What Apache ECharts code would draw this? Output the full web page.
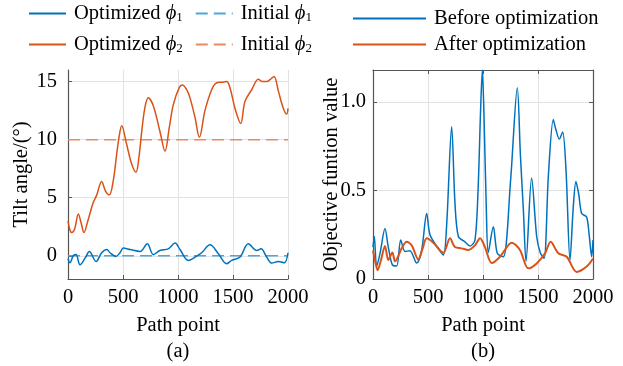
<!DOCTYPE html>
<html><head><meta charset="utf-8">
<script src="https://cdn.jsdelivr.net/npm/echarts@6/dist/echarts.min.js"></script>
<style>html,body{margin:0;padding:0;background:#fff}#c{width:623px;height:366px}</style>
</head><body><div id="c"></div>
<script>
// ---- Data (a): tilt angles ----
const phi2X = [0,18,34,60,94,120,145,180,230,260,306,340,376,412,442,467,488,533,579,618,645,670,700,730,776,836,882,920,957,1012,1040,1079,1109,1155,1194,1245,1306,1352,1400,1442,1473,1518,1570,1609,1670,1730,1770,1806,1840,1873,1912,1957,1988,2000];
const phi2Y = [3.0,2.2,2.0,2.3,3.6,2.8,2.0,3.0,4.6,5.2,6.4,5.6,5.25,6.5,8.7,10.4,11.2,9.6,7.9,7.2,8.5,10.7,12.8,13.6,12.9,10.7,9.0,11.0,13.0,14.5,14.7,14.3,13.6,11.9,10.2,12.5,14.3,14.9,14.95,15.0,14.45,12.7,11.4,13.3,14.3,15.2,15.0,15.0,15.2,15.45,14.2,12.7,12.2,12.7];
const phi1X = [0,18,48,73,109,155,194,255,306,352,382,436,473,503,564,655,721,776,836,912,973,1018,1094,1170,1215,1291,1367,1442,1488,1564,1639,1715,1755,1806,1852,1912,1967,2000];
const phi1Y = [-0.26,-0.6,0.0,0.1,-0.77,-0.2,0.37,-0.49,0.26,0.54,0.26,-0.06,0.26,0.66,0.54,0.37,1.03,0.09,0.46,0.6,1.1,0.54,-0.4,-0.03,0.26,0.94,0.17,-0.69,-0.4,-0.11,1.03,0.46,0.6,-0.11,-0.63,-0.49,-0.6,0.26];
const initX = [0,2000];
const initPhi1 = [0,0];
const initPhi2 = [10,10];
// ---- Data (b): objective function ----
const beforeX = [0,12,33,64,109,139,176,215,252,291,336,397,442,488,518,579,639,670,715,745,776,836,882,927,955,978,994,1010,1030,1048,1094,1130,1185,1250,1312,1340,1367,1391,1442,1488,1520,1555,1594,1639,1660,1694,1724,1755,1791,1820,1845,1870,1897,1942,1965,1988,2000];
const beforeY = [0.18,0.24,0.07,0.145,0.285,0.18,0.08,0.073,0.22,0.155,0.16,0.09,0.16,0.37,0.25,0.186,0.135,0.31,0.86,0.43,0.24,0.21,0.186,0.22,0.5,0.95,1.18,0.9,0.4,0.15,0.295,0.145,0.126,0.55,1.08,0.7,0.39,0.1,0.57,0.24,0.15,0.116,0.58,0.9,0.85,0.79,0.83,0.61,0.107,0.4,0.55,0.48,0.37,0.35,0.25,0.126,0.22];
const afterX = [0,20,42,70,109,139,176,200,261,306,352,412,450,488,548,639,700,745,806,867,927,973,1018,1079,1155,1261,1336,1412,1488,1564,1615,1685,1761,1852,1942,2000];
const afterY = [0.16,0.1,0.05,0.1,0.186,0.107,0.15,0.1,0.173,0.21,0.19,0.11,0.17,0.23,0.205,0.148,0.23,0.18,0.173,0.164,0.19,0.23,0.18,0.09,0.126,0.205,0.164,0.06,0.088,0.145,0.21,0.145,0.126,0.04,0.07,0.116];
const xTicks = [0,500,1000,1500,2000];
const yTicksA = [0,5,10,15];
const yTicksB = [0,0.5,1.0];

const zip = (xs, ys) => xs.map((x, i) => [x, ys[i]]);
const FONT = 'Liberation Serif';
const FS = 20.5;
const BLUE = '#0072BD', ORANGE = '#D95319', LBLUE = '#4FA6DC', LORANGE = '#EA8A62';
const AX = '#555555', GRIDC = '#e2e2e2';
const txt = {fontFamily: FONT, fontSize: FS, color: '#000'};
const rich = {
  n: {fontFamily: FONT, fontSize: FS, color: '#000'},
  i: {fontFamily: FONT, fontSize: FS, color: '#000', fontStyle: 'italic'},
  s: {fontFamily: FONT, fontSize: 13, color: '#000', verticalAlign: 'bottom', padding: [9, 0, 0, 0]}
};
const legendNames = {
  opt1: '{n|Optimized }{i|ϕ}{s|1}', init1: '{n|Initial }{i|ϕ}{s|1}',
  opt2: '{n|Optimized }{i|ϕ}{s|2}', init2: '{n|Initial }{i|ϕ}{s|2}'
};

function xAx(gi, extra) {
  return Object.assign({
    gridIndex: gi, type: 'value', min: 0, max: 2000, interval: 500,
    axisLine: {show: true, onZero: false, lineStyle: {color: AX, width: 1.2}},
    axisTick: {show: true, inside: true, length: 4, customValues: xTicks, lineStyle: {color: AX}},
    axisLabel: Object.assign({margin: 8, customValues: xTicks, formatter: v => String(v)}, txt),
    splitLine: {show: true, lineStyle: {color: GRIDC, width: 1}},
    name: 'Path point', nameLocation: 'middle', nameGap: 36, nameMoveOverlap: false, nameTextStyle: txt
  }, extra || {});
}
const legendCommon = {selectedMode: false, itemStyle: {opacity: 0}};

const chart = echarts.init(document.getElementById('c'), null, {renderer: 'canvas'});
chart.setOption({
  animation: false,
  backgroundColor: '#fff',
  grid: [
    {left: 68, top: 70, width: 220, height: 209},
    {left: 373, top: 70, width: 220, height: 209}
  ],
  legend: [
    Object.assign({left: 23, top: -2, itemWidth: 37, itemHeight: 10, itemGap: 12,
     data: ['opt1', 'init1'], formatter: n => legendNames[n], textStyle: {rich: rich, padding: [0,0,0,3]}}, legendCommon),
    Object.assign({left: 23, top: 29, itemWidth: 37, itemHeight: 10, itemGap: 12,
     data: ['opt2', 'init2'], formatter: n => legendNames[n], textStyle: {rich: rich, padding: [0,0,0,3]}}, legendCommon),
    Object.assign({left: 347, top: 3, orient: 'vertical', itemWidth: 73, itemHeight: 10, itemGap: 5,
     data: ['Before optimization', 'After optimization'], textStyle: Object.assign({padding: [0,0,0,3]}, txt)}, legendCommon)
  ],
  xAxis: [
    xAx(0),
    xAx(1),
    xAx(1, {position: 'top', name: '', axisLabel: {show: false}, splitLine: {show: false}})
  ],
  yAxis: [
    {gridIndex: 0, type: 'value', min: -2, max: 16,
     axisLine: {show: true, onZero: false, lineStyle: {color: AX, width: 1.2}},
     axisTick: {show: true, inside: true, length: 4, customValues: yTicksA, lineStyle: {color: AX}},
     axisLabel: Object.assign({margin: 11, customValues: yTicksA}, txt),
     splitLine: {show: true, lineStyle: {color: GRIDC, width: 1}},
     name: 'Tilt angle/(°)', nameLocation: 'middle', nameGap: 36, nameMoveOverlap: false, nameTextStyle: txt},
    {gridIndex: 1, type: 'value', min: 0, max: 1.18,
     axisLine: {show: true, onZero: false, lineStyle: {color: AX, width: 1.2}},
     axisTick: {show: true, inside: true, length: 4, customValues: yTicksB, lineStyle: {color: AX}},
     axisLabel: Object.assign({margin: 7, customValues: yTicksB, formatter: v => v === 0 ? '0' : v.toFixed(1)}, txt),
     splitLine: {show: true, lineStyle: {color: GRIDC, width: 1}},
     name: 'Objective funtion value', nameLocation: 'middle', nameGap: 31, nameMoveOverlap: false, nameTextStyle: txt},
    {gridIndex: 1, type: 'value', min: 0, max: 1.18, position: 'right',
     axisLine: {show: true, onZero: false, lineStyle: {color: AX, width: 1.2}},
     axisTick: {show: true, inside: true, length: 4, customValues: yTicksB, lineStyle: {color: AX}},
     axisLabel: {show: false}, splitLine: {show: false}}
  ],
  series: [
    {name: 'opt1', type: 'line', xAxisIndex: 0, yAxisIndex: 0, data: zip(phi1X, phi1Y), smooth: 0.35, symbol: 'none',
     color: BLUE, lineStyle: {color: BLUE, width: 1.5}, z: 4},
    {name: 'init1', type: 'line', xAxisIndex: 0, yAxisIndex: 0, data: zip(initX, initPhi1), symbol: 'none',
     color: LBLUE, lineStyle: {color: LBLUE, width: 1.5, type: [12, 6]}, z: 3},
    {name: 'opt2', type: 'line', xAxisIndex: 0, yAxisIndex: 0, data: zip(phi2X, phi2Y), smooth: 0.35, symbol: 'none',
     color: ORANGE, lineStyle: {color: ORANGE, width: 1.5}, z: 4},
    {name: 'init2', type: 'line', xAxisIndex: 0, yAxisIndex: 0, data: zip(initX, initPhi2), symbol: 'none',
     color: LORANGE, lineStyle: {color: LORANGE, width: 1.5, type: [12, 6]}, z: 3},
    {name: 'Before optimization', type: 'line', xAxisIndex: 1, yAxisIndex: 1, data: zip(beforeX, beforeY), smooth: 0.3, symbol: 'none',
     color: BLUE, lineStyle: {color: BLUE, width: 1.5}, z: 3},
    {name: 'After optimization', type: 'line', xAxisIndex: 1, yAxisIndex: 1, data: zip(afterX, afterY), smooth: 0.3, symbol: 'none',
     color: ORANGE, lineStyle: {color: ORANGE, width: 2}, z: 4}
  ],
  graphic: [
    {type: 'text', x: 178, y: 352, style: {text: '(a)', font: FS + 'px "Liberation Serif"', fill: '#000', align: 'center', verticalAlign: 'middle'}},
    {type: 'text', x: 483, y: 352, style: {text: '(b)', font: FS + 'px "Liberation Serif"', fill: '#000', align: 'center', verticalAlign: 'middle'}}
  ]
});
</script>
</body></html>
